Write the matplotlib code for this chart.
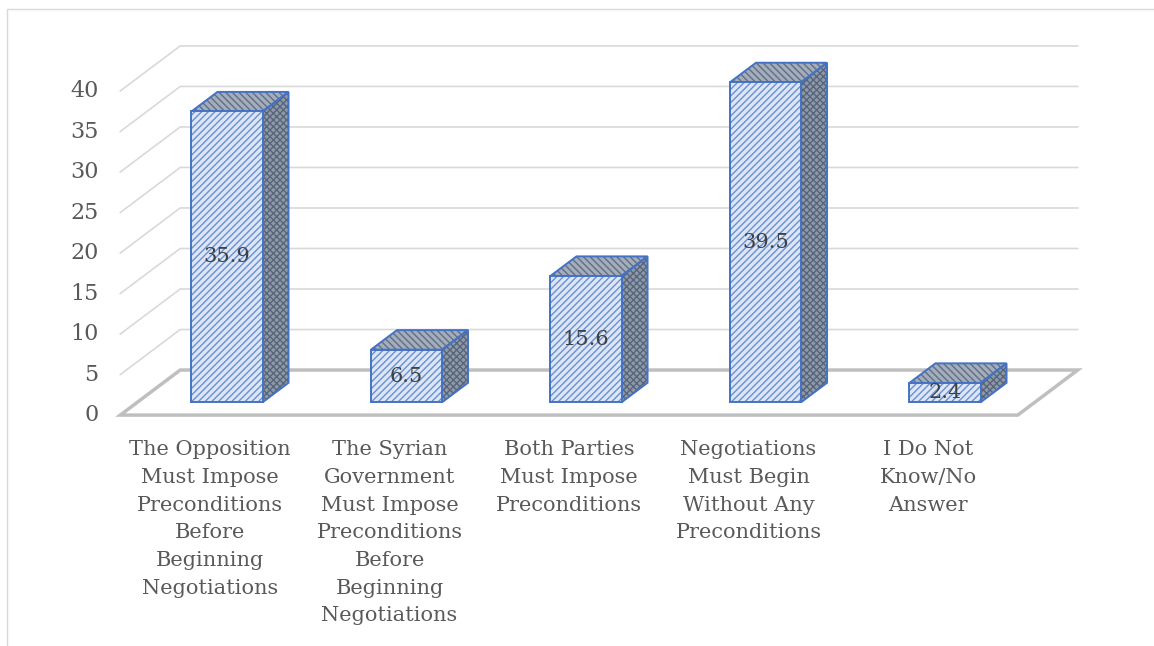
import matplotlib.pyplot as plt
from matplotlib.patches import Polygon, Rectangle

categories = [
    "The Opposition\nMust Impose\nPreconditions\nBefore\nBeginning\nNegotiations",
    "The Syrian\nGovernment\nMust Impose\nPreconditions\nBefore\nBeginning\nNegotiations",
    "Both Parties\nMust Impose\nPreconditions",
    "Negotiations\nMust Begin\nWithout Any\nPreconditions",
    "I Do Not\nKnow/No\nAnswer",
]
values = [35.9, 6.5, 15.6, 39.5, 2.4]
yticks = [0, 5, 10, 15, 20, 25, 30, 35, 40]

# oblique projection: depth d in [0, 1] shifts x (categories) and y (values)
SX, SY = 0.334, 5.56
def proj(x, v, d):
    return (x + d * SX, v + d * SY)

GRID = "#d9d9d9"
FLOOR = "#bfbfbf"
TEXT = "#595959"
BLUE = "#4472c4"
FONT = "DejaVu Serif"

plt.rcParams["hatch.linewidth"] = 1.0
fig = plt.figure(figsize=(11.54, 6.46), dpi=100)
ax = fig.add_axes([0, 0, 1, 1])
ax.set_xlim(-1.170, 5.259)
ax.set_ylim(-28.5, 51.23)
ax.axis("off")

# outer chart border
fig.patches.append(Rectangle((7 / 1154, -0.1), 1.2, 1 - 9 / 646 + 0.1,
                             transform=fig.transFigure, fill=False,
                             edgecolor="#d9d9d9", lw=1))

x0, x1 = -0.5, len(values) - 0.5

# back wall and side wall gridlines
for t in yticks[1:]:
    a = proj(x0, t, 0)
    b = proj(x0, t, 1)
    c = proj(x1, t, 1)
    ax.plot([a[0], b[0], c[0]], [a[1], b[1], c[1]], color=GRID, lw=1.2,
            solid_joinstyle="miter", zorder=1)

for t in yticks:
    a = proj(x0, t, 0)
    ax.text(a[0] - 0.12, a[1], str(t), ha="right", va="center",
            fontsize=16, color=TEXT, family=FONT)

# floor
fl = [proj(x0, 0, 0), proj(x0, 0, 1), proj(x1, 0, 1), proj(x1, 0, 0)]
ax.add_patch(Polygon(fl, closed=True, fill=False, edgecolor=FLOOR, lw=2.5,
                     joinstyle="miter", zorder=2))

def face(pts, fc, hc, hatch, z):
    # hatched fill first, blue outline on top
    ax.add_patch(Polygon(pts, closed=True, facecolor=fc, edgecolor=hc,
                         hatch=hatch, lw=0, zorder=z))
    ax.add_patch(Polygon(pts, closed=True, fill=False, edgecolor=BLUE,
                         lw=1.4, joinstyle="miter", zorder=z + 0.1))

# bars as boxes
hw = 0.198
d0, d1 = 0.283, 0.717
for i, v in enumerate(values):
    front = [proj(i - hw, 0, d0), proj(i + hw, 0, d0),
             proj(i + hw, v, d0), proj(i - hw, v, d0)]
    top = [proj(i - hw, v, d0), proj(i + hw, v, d0),
           proj(i + hw, v, d1), proj(i - hw, v, d1)]
    side = [proj(i + hw, 0, d0), proj(i + hw, 0, d1),
            proj(i + hw, v, d1), proj(i + hw, v, d0)]
    face(side, "#8f99a8", "#56657c", "xxxxx", 3)
    face(top, "#a4adba", "#5f6f88", "\\\\\\\\\\", 3)
    face(front, "#dde6f5", "#6a90d2", "/////", 4)
    cx, cy = proj(i, v / 2, d0)
    ax.text(cx, cy, f"{v}", ha="center", va="center", fontsize=15,
            color="#404040", family=FONT, zorder=5)

# category labels under the floor front edge
for i, lab in enumerate(categories):
    ax.text(i, -3.1, lab, ha="center", va="top", fontsize=15, color=TEXT,
            family=FONT, linespacing=1.58)

fig.savefig("out.png", dpi=100)
